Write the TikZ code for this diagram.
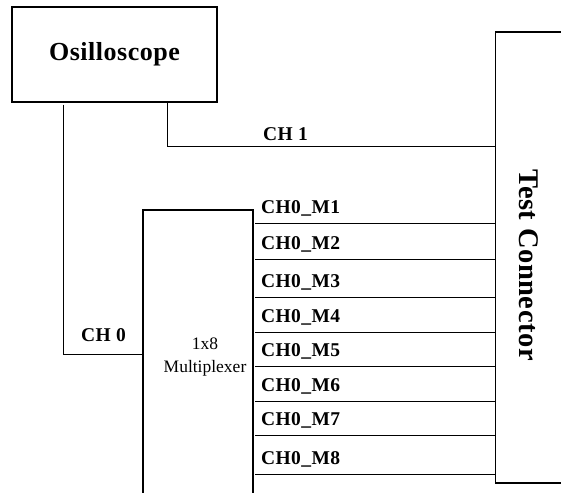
\documentclass[tikz,border=0pt]{standalone}
\usepackage{fontspec}
\setmainfont{Liberation Serif}
\newfontfamily\spfont[LetterSpace=2]{Liberation Serif}
\begin{document}
\begin{tikzpicture}[x=1pt,y=-1pt,
  box/.style={draw,line width=1.4pt,inner sep=0pt},
  wire/.style={draw,line width=1pt},
  lbl/.style={font=\spfont\bfseries\fontsize{19.5}{22}\selectfont,inner sep=0pt,anchor=base west},
  clbl/.style={font=\spfont\bfseries\fontsize{19.5}{22}\selectfont,inner sep=0pt}]
\useasboundingbox (0,0) rectangle (561,492);
% boxes
\node[box,minimum width=205pt,minimum height=95pt,font=\spfont\bfseries\fontsize{26}{28}\selectfont] (osc) at (114.5,54.5) {Osilloscope};
\node[box,minimum width=110pt,minimum height=300pt] (mux) at (198,360) {};
\node[align=center,inner sep=0pt,font=\fontsize{17.5}{23}\selectfont] (muxl) at (205,357.5) {1x8\\Multiplexer};
\node[box,minimum width=120pt,minimum height=451pt] (tc) at (555.5,257.5) {};
\node[rotate=-90,inner sep=0pt,font=\spfont\bfseries\fontsize{28.5}{31}\selectfont] (tcl) at (529,265) {Test Connector};
% CH1
\coordinate (c1a) at (167,146);
\draw[wire] (c1a |- osc.south) -- (c1a) -- (tc.west |- c1a);
\node[clbl] (ch1) at (285.5,134.5) {CH 1};
% CH0
\coordinate (c0a) at (63,354);
\draw[wire,shorten <=2pt] (c0a |- osc.south) -- (c0a) -- (mux.west |- c0a);
\node[clbl] (ch0) at (103.5,335.5) {CH 0};
% mux outputs
\foreach \y/\n in {223/1,259/2,297/3,332/4,366/5,401/6,435/7,474/8}{
  \coordinate (m\n) at (255,\y);
  \draw[wire] (m\n) -- (tc.west |- m\n);
  \node[lbl] (ml\n) at (261,\y-9.5) {CH0\_M\n};
}
\end{tikzpicture}
\end{document}
